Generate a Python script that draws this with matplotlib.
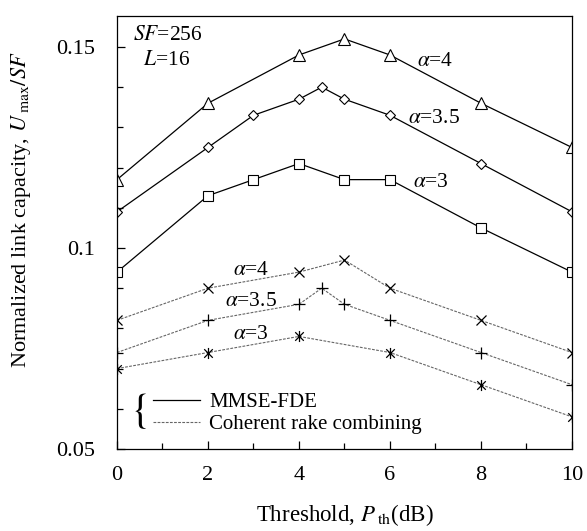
import matplotlib
matplotlib.use('Agg')
import matplotlib.pyplot as plt
from matplotlib.path import Path
from matplotlib.ticker import MultipleLocator

plt.rcParams['font.family'] = ['Liberation Serif', 'DejaVu Serif']
plt.rcParams['mathtext.fontset'] = 'stix'

# MMSE-FDE
x_a4 = [0, 2, 4, 5, 6, 8, 10]
y_a4 = [0.117, 0.136, 0.148, 0.152, 0.148, 0.136, 0.125]
x_a35 = [0, 2, 3, 4, 4.5, 5, 6, 8, 10]
y_a35 = [0.109, 0.125, 0.133, 0.137, 0.140, 0.137, 0.133, 0.121, 0.109]
x_a3 = [0, 2, 3, 4, 5, 6, 8, 10]
y_a3 = [0.094, 0.113, 0.117, 0.121, 0.117, 0.117, 0.105, 0.094]

# coherent rake combining
xr_a4 = [0, 2, 4, 5, 6, 8, 10]
yr_a4 = [0.082, 0.090, 0.094, 0.097, 0.090, 0.082, 0.074]
xr_a35 = [0, 2, 4, 4.5, 5, 6, 8, 10]
yr_a35 = [0.074, 0.082, 0.086, 0.090, 0.086, 0.082, 0.074, 0.066]
xr_a3 = [0, 2, 4, 6, 8, 10]
yr_a3 = [0.070, 0.074, 0.078, 0.074, 0.066, 0.058]

xticks = [0, 2, 4, 6, 8, 10]
yticks = [0.05, 0.1, 0.15]
ytick_labels = ['0.05', '0.1', '0.15']

# x with a vertical bar
star = Path([(-1, -1), (1, 1), (-1, 1), (1, -1), (0, -1.3), (0, 1.3)],
            [Path.MOVETO, Path.LINETO, Path.MOVETO, Path.LINETO, Path.MOVETO, Path.LINETO])

fig = plt.figure(figsize=(5.87, 5.31), dpi=100)
ax = fig.add_axes([0.1993, 0.1544, 0.7751, 0.8155])

mk = dict(color='black', lw=0.9, mfc='white', mec='black', mew=0.8)
ax.plot(x_a4, y_a4, marker='^', ms=8, **mk)
ax.plot(x_a35, y_a35, marker='D', ms=5.5, **mk)
ax.plot(x_a3, y_a3, marker='s', ms=7.5, **mk)

rk = dict(color='0.4', lw=0.8, ls=(0, (2.5, 1.2)), mec='black', mew=0.9)
ax.plot(xr_a4, yr_a4, marker='x', ms=7, **rk)
ax.plot(xr_a35, yr_a35, marker='+', ms=9, **rk)
ax.plot(xr_a3, yr_a3, marker=star, ms=8, **rk)

fs = 15.5
ax.text(6.6, 0.1465, r'$\alpha$=4', fontsize=fs, va='center')
ax.text(6.4, 0.1323, r'$\alpha$=3.5', fontsize=fs, va='center')
ax.text(6.5, 0.1164, r'$\alpha$=3', fontsize=fs, va='center')
ax.text(2.55, 0.0945, r'$\alpha$=4', fontsize=fs, va='center')
ax.text(2.37, 0.0866, r'$\alpha$=3.5', fontsize=fs, va='center')
ax.text(2.55, 0.0786, r'$\alpha$=3', fontsize=fs, va='center')

ax.text(0.035, 0.955, r'$SF$=256', transform=ax.transAxes, fontsize=fs, va='center')
ax.text(0.057, 0.897, r'$L$=16', transform=ax.transAxes, fontsize=fs, va='center')

# legend
l1, = ax.plot([], [], color='black', lw=0.9)
l2, = ax.plot([], [], color='0.4', lw=0.8, ls=(0, (2.5, 1.2)))
ax.legend([l1, l2], ['MMSE-FDE', 'Coherent rake combining'], loc='lower left',
          bbox_to_anchor=(0.079, 0.035), frameon=False, fontsize=15,
          handlelength=2.26, handletextpad=0.43, labelspacing=0.1,
          borderpad=0, borderaxespad=0)
ax.text(0.046, 0.087, r'$\{$', transform=ax.transAxes, fontsize=30, va='center', ha='center')

ax.set_xlim(0, 10)
ax.set_ylim(0.05, 0.1577)
ax.set_xticks(xticks)
ax.xaxis.set_minor_locator(MultipleLocator(1))
ax.set_yticks(yticks)
ax.set_yticklabels(ytick_labels)
ax.yaxis.set_minor_locator(MultipleLocator(0.01))
ax.tick_params(which='both', direction='in', top=False, right=False, labelsize=16)
ax.tick_params(which='major', length=6, width=0.9)
ax.tick_params(axis='x', which='major', pad=12)
ax.tick_params(axis='y', which='major', pad=16)
ax.tick_params(which='minor', length=4, width=0.9)
for s in ax.spines.values():
    s.set_linewidth(0.9)

ax.set_xlabel(r'Threshold, $P\,_{\rm th}$(dB)', fontsize=16.5)
ax.set_ylabel(r'Normalized link capacity, $U\,_{\rm max}/SF$', fontsize=16)
ax.xaxis.set_label_coords(0.5, -0.123)
ax.yaxis.set_label_coords(-0.185, 0.552)

fig.savefig('out.png', dpi=100)
